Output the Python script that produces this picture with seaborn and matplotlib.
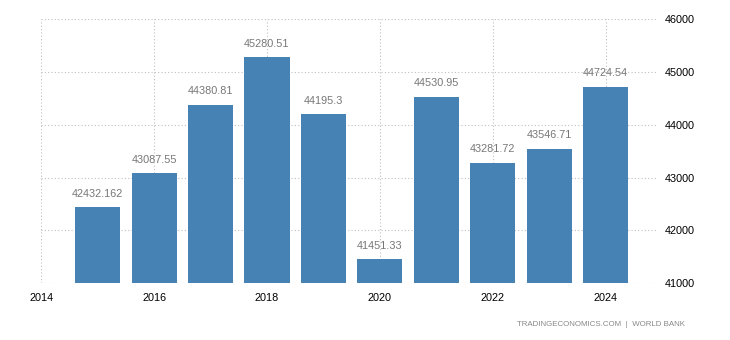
import matplotlib
matplotlib.use("Agg")
import matplotlib.pyplot as plt
import seaborn as sns
import pandas as pd

years = [2015, 2016, 2017, 2018, 2019, 2020, 2021, 2022, 2023, 2024]
values = [42432.162, 43087.55, 44380.81, 45280.51, 44195.3, 41451.33, 44530.95, 43281.72, 43546.71, 44724.54]
labels = ["42432.162", "43087.55", "44380.81", "45280.51", "44195.3", "41451.33", "44530.95", "43281.72", "43546.71", "44724.54"]
x_ticks = [2014, 2016, 2018, 2020, 2022, 2024]
y_ticks = [41000, 42000, 43000, 44000, 45000, 46000]
source = "TRADINGECONOMICS.COM  |  WORLD BANK"

sns.set_theme(style="white")
plt.rcParams['font.family'] = ['Liberation Sans', 'DejaVu Sans']

df = pd.DataFrame({"year": years, "value": values})

fig = plt.figure(figsize=(7.3, 3.4), dpi=100)
ax = fig.add_axes([41.3 / 730, 1 - 283 / 340, (658 - 41.3) / 730, (283 - 19.3) / 340])

sns.barplot(data=df, x="year", y="value", native_scale=True, width=0.8,
            color="#4682B4", saturation=1, linewidth=0, edgecolor="none",
            ax=ax, zorder=3)

ax.set_xlim(2014, 2024.93)
ax.set_ylim(41000, 46000)
ax.set_xticks(x_ticks)
ax.set_xticklabels([str(t) for t in x_ticks])
ax.set_yticks(y_ticks)
ax.set_yticklabels([str(t) for t in y_ticks])
ax.yaxis.tick_right()
ax.tick_params(axis="both", length=0, labelsize=7.8, colors="#000000")
ax.tick_params(axis="x", pad=7)
ax.tick_params(axis="y", pad=5)
ax.set_xlabel("")
ax.set_ylabel("")
for s in ax.spines.values():
    s.set_visible(False)
ax.grid(True, linestyle=(0, (1, 2)), color="#c0c0c0", linewidth=0.8, zorder=0)
ax.set_axisbelow(True)

for x, v, lab in zip(years, values, labels):
    ax.annotate(lab, (x, v), xytext=(0, 6), textcoords="offset points",
                ha="center", va="bottom", fontsize=7.8, color="#777777")

fig.text(685 / 730, 1 - 325 / 340, source, ha="right", va="center",
         fontsize=5.7, color="#888888")

fig.savefig("out.png", dpi=100)
